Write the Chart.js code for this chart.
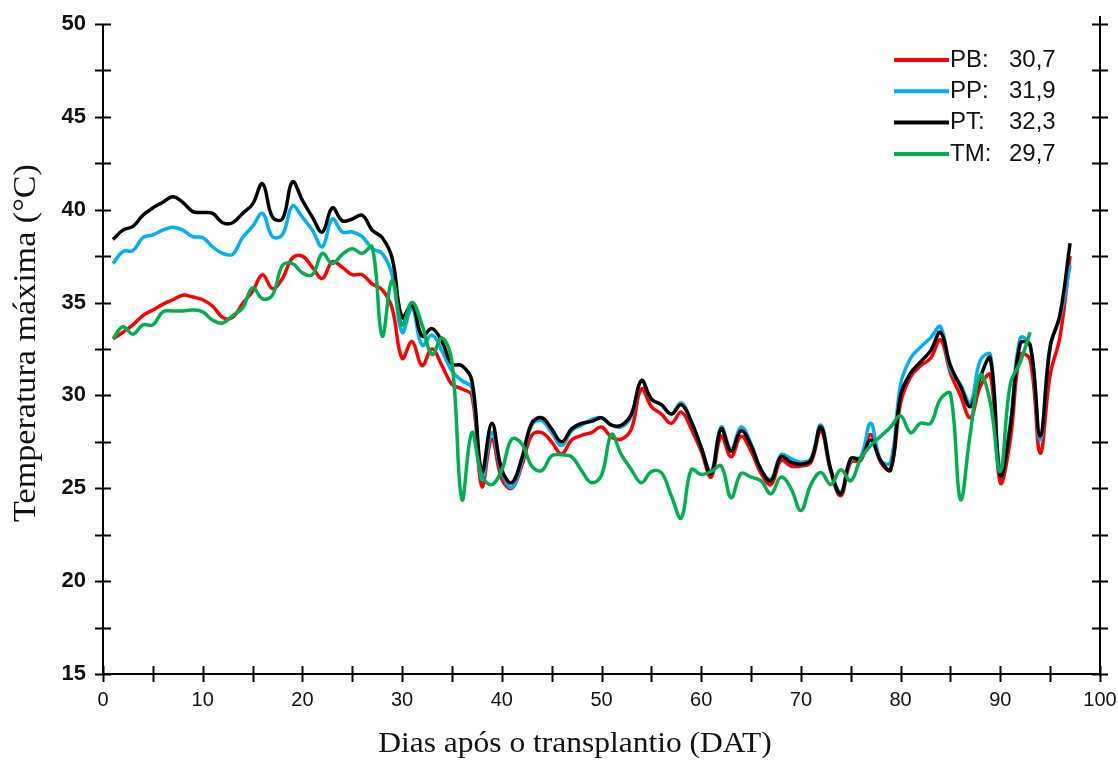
<!DOCTYPE html>
<html>
<head>
<meta charset="utf-8">
<script src="https://cdn.jsdelivr.net/npm/chart.js@4.4.1/dist/chart.umd.min.js"></script>
<style>
  html, body { margin: 0; padding: 0; background: #fff; }
  #wrap { width: 1118px; height: 760px; }
</style>
</head>
<body>
<div id="wrap"><canvas id="chart" width="1118" height="760"></canvas></div>
<script>
// days after transplanting
const days = [1,2,3,4,5,6,7,8,9,10,11,12,13,14,15,16,17,18,19,20,
  21,22,23,24,25,26,27,28,29,30,31,32,33,34,35,36,37,38,39,40,
  41,42,43,44,45,46,47,48,49,50,51,52,53,54,55,56,57,58,59,60,
  61,62,63,64,65,66,67,68,69,70,71,72,73,74,75,76,77,78,79,80,
  81,82,83,84,85,86,87,88,89,90,91,92,93,94,95,96,97];

// max temperature (°C) per treatment
const pb = [33.05,33.4,33.8,34.3,34.6,34.9,35.15,35.4,35.3,35.15,34.8,34.2,34.2,34.95,35.6,36.5,35.75,36.3,37.4,37.5,
  36.9,36.3,37.2,36.9,36.5,36.5,36.0,35.7,34.7,32.0,32.9,31.6,32.5,31.6,30.6,30.35,30.0,25.1,27.65,25.5,
  25.0,26.2,27.85,28.0,27.5,26.85,27.6,27.85,28.0,28.3,27.75,27.65,28.2,30.35,29.4,29.0,28.5,29.1,28.2,27.0,
  25.6,27.8,26.7,27.8,27.0,25.8,25.2,26.5,26.2,26.2,26.4,28.1,25.9,24.6,26.4,26.5,27.9,26.4,26.0,29.6,
  31.0,31.6,32.0,33.0,31.2,30.0,28.8,30.5,31.1,25.3,27.6,32.2,31.9,26.9,31.1,33.2,37.5];

const pp = [37.1,37.75,37.8,38.5,38.65,38.9,39.05,38.9,38.55,38.5,38.0,37.65,37.6,38.5,39.1,39.8,38.55,38.65,40.2,39.6,
  38.9,38.0,39.5,38.8,38.8,38.55,37.9,37.65,36.5,33.4,34.7,32.7,33.25,32.4,31.3,30.8,30.4,25.5,28.0,25.85,
  25.05,26.4,28.4,28.65,28.0,27.3,28.1,28.4,28.7,28.8,28.4,28.3,28.9,30.8,29.8,29.5,29.0,29.6,28.6,27.2,
  25.9,28.3,27.1,28.3,27.4,26.0,25.5,26.8,26.6,26.4,26.6,28.4,26.0,24.8,26.5,26.7,28.5,26.5,26.4,30.6,
  32.0,32.6,33.1,33.7,31.4,30.6,29.6,31.9,32.2,25.9,28.5,33.1,32.7,27.6,32.7,34.2,37.0];

const pt = [38.4,38.9,39.1,39.7,40.1,40.4,40.7,40.4,39.9,39.85,39.8,39.3,39.3,39.8,40.3,41.4,39.6,39.5,41.5,40.5,
  39.6,38.8,40.1,39.4,39.5,39.7,38.9,38.5,37.4,34.2,34.9,33.2,33.6,32.9,31.7,31.6,30.8,25.9,28.5,26.0,
  25.3,26.6,28.5,28.8,28.2,27.5,28.2,28.5,28.6,28.8,28.4,28.4,29.0,30.8,29.8,29.5,29.0,29.5,28.6,27.2,
  25.8,28.2,27.0,28.1,27.3,26.0,25.4,26.7,26.4,26.3,26.5,28.3,26.0,24.7,26.6,26.6,27.6,26.5,26.0,30.0,
  31.2,31.8,32.4,33.4,31.6,30.5,29.4,31.0,32.0,25.7,28.3,32.8,32.7,27.8,32.6,34.4,38.2];

const tm = [33.05,33.7,33.3,33.8,33.8,34.5,34.55,34.55,34.6,34.5,34.05,33.9,34.3,34.7,35.8,35.2,35.4,37.0,37.1,36.6,
  36.5,37.65,37.1,37.6,37.9,37.65,38.0,33.2,36.2,33.8,35.0,33.8,32.2,33.1,31.8,24.4,28.0,25.7,25.2,26.0,
  27.65,27.4,26.2,25.95,26.75,26.8,26.7,25.95,25.3,25.7,27.9,26.8,26.0,25.3,25.9,25.85,24.6,23.4,26.0,25.75,
  25.9,26.2,24.5,25.8,25.6,25.4,24.7,25.6,25.0,23.8,25.2,25.85,25.2,26.0,25.4,26.6,27.3,27.8,28.3,28.9,
  28.0,28.5,28.5,29.8,30.1,24.4,28.0,31.1,29.6,25.9,30.6,31.8,33.4];

const seriesNames = ['PB:', 'PP:', 'PT:', 'TM:'];
const seriesMeans = ['30,7', '31,9', '32,3', '29,7'];
const seriesColors = ['#ff0000', '#00b0f0', '#000000', '#00b050'];

const yTicks = [15, 20, 25, 30, 35, 40, 45, 50];
const xTicks = [0, 10, 20, 30, 40, 50, 60, 70, 80, 90, 100];
const xTitle = 'Dias após o transplantio (DAT)';
const yTitle = 'Temperatura máxima (°C)';

function pts(vals) {
  return vals.map((v, i) => ({ x: days[i], y: v }));
}

// axes drawn like the original: crossing tick marks, right axis line, no top line
const axisFrame = {
  id: 'axisFrame',
  afterDatasetsDraw(chart) {
    const { ctx, chartArea: a, scales: { x, y } } = chart;
    ctx.save();
    ctx.strokeStyle = '#000';
    ctx.lineWidth = 2;
    ctx.beginPath();
    ctx.moveTo(a.left, a.top);
    ctx.lineTo(a.left, a.bottom);
    ctx.lineTo(a.right, a.bottom);
    ctx.moveTo(a.right, a.top - 8);
    ctx.lineTo(a.right, a.bottom);
    y.ticks.forEach(t => {
      const py = Math.round(y.getPixelForValue(t.value)) + 0.5;
      ctx.moveTo(a.left - 8, py); ctx.lineTo(a.left + 8, py);
      ctx.moveTo(a.right - 8, py); ctx.lineTo(a.right + 8, py);
    });
    x.ticks.forEach(t => {
      const px = Math.round(x.getPixelForValue(t.value)) + 0.5;
      ctx.moveTo(px, a.bottom - 8); ctx.lineTo(px, a.bottom + 8);
    });
    ctx.stroke();
    ctx.restore();
  }
};

// axis titles, a bit stretched like in the original figure
const axisTitles = {
  id: 'axisTitles',
  afterDraw(chart) {
    const { ctx } = chart;
    ctx.save();
    ctx.fillStyle = '#111';
    ctx.textAlign = 'center';
    ctx.textBaseline = 'middle';
    ctx.font = '30px "Liberation Serif", "Times New Roman", serif';
    ctx.save();
    ctx.translate(575, 744);
    ctx.scale(1.05, 1);
    ctx.fillText(xTitle, 0, 0);
    ctx.restore();
    ctx.font = '31px "Liberation Serif", "Times New Roman", serif';
    ctx.translate(27, 343);
    ctx.rotate(-Math.PI / 2);
    ctx.scale(1.1, 1);
    ctx.fillText(yTitle, 0, 0);
    ctx.restore();
  }
};

const meanLegend = {
  id: 'meanLegend',
  afterDraw(chart) {
    const { ctx, chartArea: a } = chart;
    ctx.save();
    ctx.font = '24px "Liberation Sans", Arial, sans-serif';
    ctx.textBaseline = 'middle';
    ctx.fillStyle = '#111';
    const x0 = a.right - 206;
    seriesNames.forEach((name, i) => {
      const yy = a.top + 36 + i * 31.3;
      ctx.strokeStyle = seriesColors[i];
      ctx.lineWidth = 4;
      ctx.beginPath();
      ctx.moveTo(x0, yy);
      ctx.lineTo(x0 + 55, yy);
      ctx.stroke();
      ctx.fillText(name, x0 + 56, yy);
      ctx.fillText(seriesMeans[i], x0 + 115, yy);
    });
    ctx.restore();
  }
};

const lineOpts = { borderWidth: 3.5, pointRadius: 0, tension: 0.4, fill: false };

new Chart(document.getElementById('chart'), {
  type: 'line',
  data: {
    datasets: [
      { label: 'PB', data: pts(pb), borderColor: seriesColors[0], order: 4, ...lineOpts },
      { label: 'PP', data: pts(pp), borderColor: seriesColors[1], order: 3, ...lineOpts },
      { label: 'PT', data: pts(pt), borderColor: seriesColors[2], order: 2, ...lineOpts },
      { label: 'TM', data: pts(tm), borderColor: seriesColors[3], order: 1, ...lineOpts }
    ]
  },
  options: {
    responsive: false,
    animation: false,
    devicePixelRatio: 1,
    layout: { padding: { left: 0, right: 18, top: 24, bottom: 0 } },
    plugins: { legend: { display: false }, tooltip: { enabled: false } },
    scales: {
      x: {
        type: 'linear',
        min: 0, max: 100,
        border: { display: false },
        grid: { display: false, drawTicks: false },
        ticks: {
          stepSize: 5,
          padding: 14,
          color: '#111',
          font: { family: '"Liberation Sans", Arial', size: 20 },
          maxRotation: 0,
          callback: v => xTicks.includes(v) ? String(v) : ''
        },
        afterFit: s => { s.height = 86; s.paddingLeft = 0; s.paddingRight = 0; }
      },
      y: {
        min: 15, max: 50,
        border: { display: false },
        grid: { display: false, drawTicks: false },
        ticks: {
          stepSize: 2.5,
          padding: 17,
          color: '#111',
          font: { family: '"Liberation Sans", Arial', size: 22, weight: 'bold' },
          callback: v => yTicks.includes(v) ? String(v) : ''
        },
        afterFit: s => { s.width = 103; s.paddingTop = 0; s.paddingBottom = 0; }
      }
    }
  },
  plugins: [axisFrame, axisTitles, meanLegend]
});
</script>
</body>
</html>
